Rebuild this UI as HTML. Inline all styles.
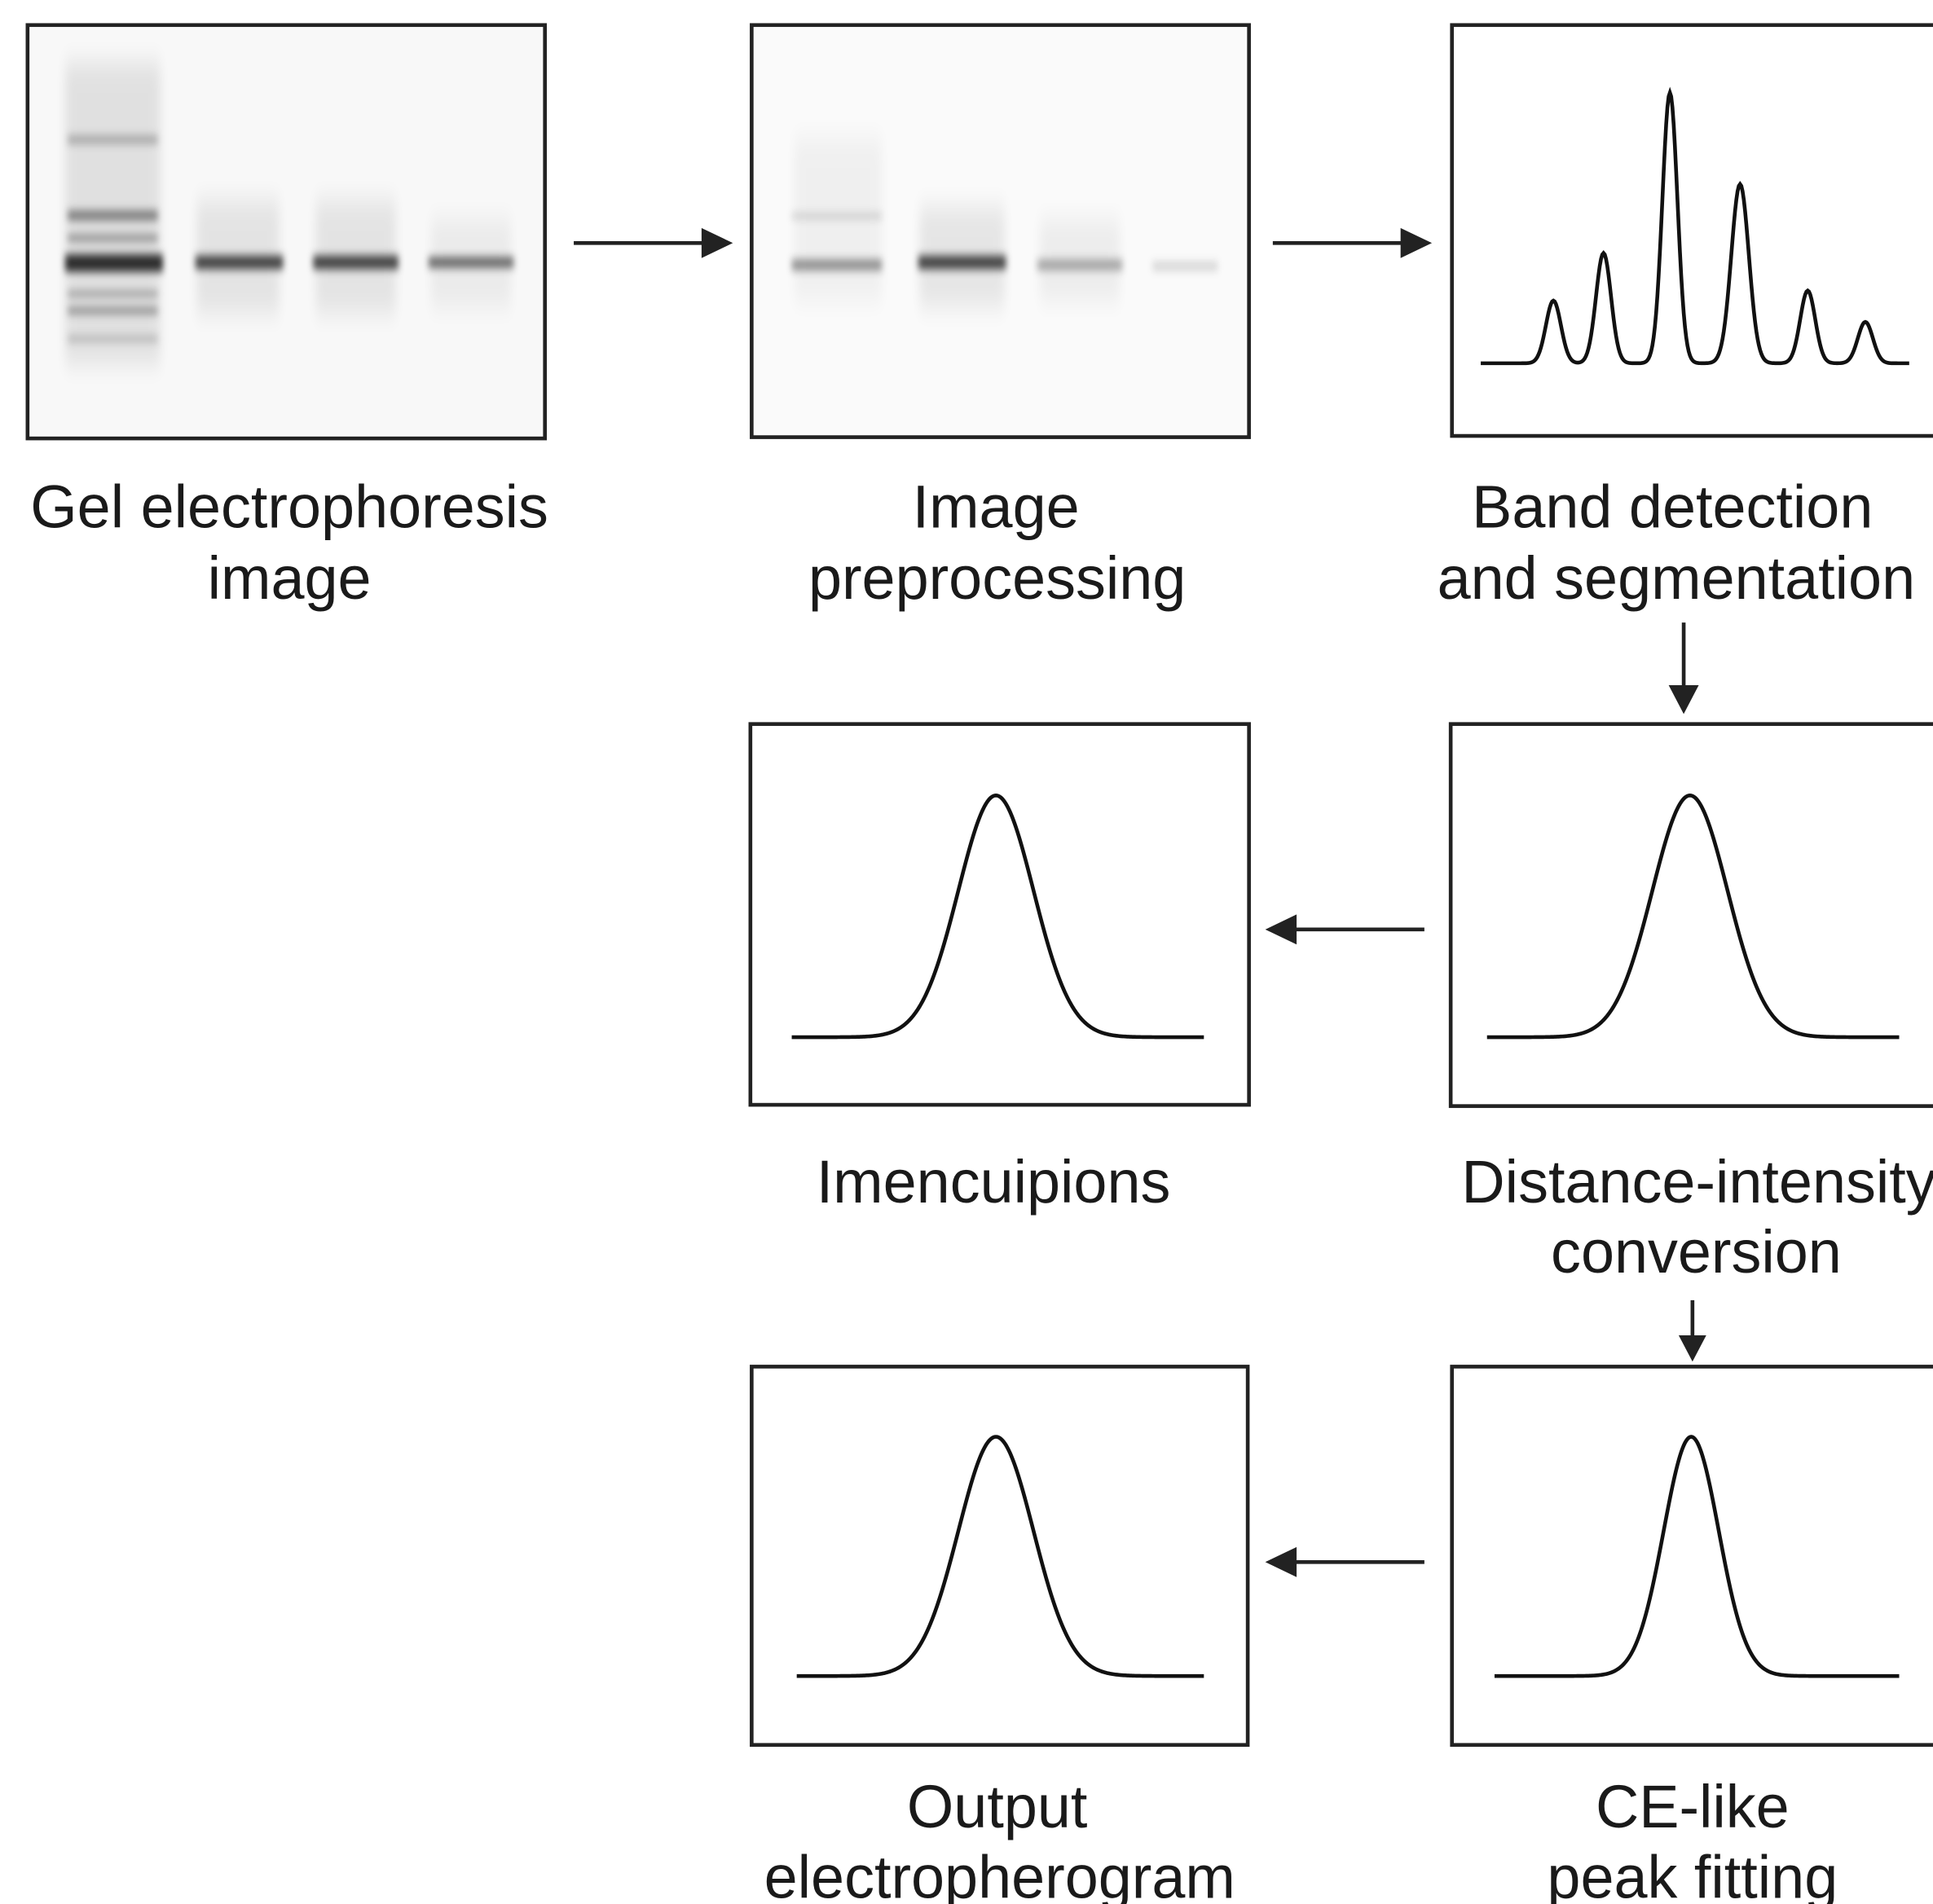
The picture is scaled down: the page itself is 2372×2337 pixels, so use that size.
<!DOCTYPE html>
<html><head><meta charset="utf-8"><style>html,body{margin:0;padding:0;background:#fff;}svg{display:block}</style></head>
<body>
<svg id="s" width="2372" height="2337" viewBox="0 0 1543 1520" preserveAspectRatio="none" xmlns="http://www.w3.org/2000/svg">
<defs>
<filter id="b1" x="-20%" y="-200%" width="140%" height="500%"><feGaussianBlur stdDeviation="2.5 3.5"/></filter>
<filter id="b2" x="-20%" y="-20%" width="140%" height="140%"><feGaussianBlur stdDeviation="4 10"/></filter>
</defs>
<rect width="1543" height="1520" fill="#fff"/>
<!-- Box 1 gel -->
<rect x="22" y="20" width="413" height="330" fill="#f8f8f8"/>
<g fill="#000">
<rect x="52" y="50" width="76" height="240" opacity="0.09" filter="url(#b2)"/>
<rect x="157" y="160" width="66" height="90" opacity="0.08" filter="url(#b2)"/>
<rect x="252" y="160" width="64" height="90" opacity="0.08" filter="url(#b2)"/>
<rect x="344" y="175" width="64" height="70" opacity="0.05" filter="url(#b2)"/>
<g filter="url(#b1)">
<rect x="54" y="108" width="72" height="7" opacity="0.25"/>
<rect x="54" y="168" width="72" height="8" opacity="0.45"/>
<rect x="54" y="187" width="72" height="6" opacity="0.35"/>
<rect x="52" y="203" width="78" height="14" opacity="0.8"/>
<rect x="54" y="232" width="72" height="5" opacity="0.3"/>
<rect x="54" y="245" width="72" height="6" opacity="0.35"/>
<rect x="54" y="268" width="72" height="5" opacity="0.2"/>
<rect x="156" y="204" width="70" height="11" opacity="0.7"/>
<rect x="250" y="204" width="68" height="11" opacity="0.7"/>
<rect x="342" y="205" width="68" height="9" opacity="0.55"/>
</g></g>
<rect x="22" y="20" width="413" height="330" fill="none" stroke="#222" stroke-width="3"/>
<!-- Box 2 gel -->
<rect x="600" y="20" width="397" height="329" fill="#fafafa"/>
<g fill="#000">
<rect x="634" y="110" width="70" height="130" opacity="0.04" filter="url(#b2)"/>
<rect x="734" y="165" width="68" height="80" opacity="0.08" filter="url(#b2)"/>
<rect x="830" y="175" width="64" height="65" opacity="0.05" filter="url(#b2)"/>
<g filter="url(#b1)">
<rect x="632" y="170" width="72" height="5" opacity="0.15"/>
<rect x="632" y="207" width="72" height="9" opacity="0.4"/>
<rect x="733" y="204" width="70" height="11" opacity="0.7"/>
<rect x="828" y="207" width="68" height="9" opacity="0.3"/>
<rect x="920" y="209" width="52" height="7" opacity="0.15"/>
</g></g>
<rect x="600" y="20" width="397" height="329" fill="none" stroke="#222" stroke-width="3"/>
<!-- Box 3 -->
<rect x="1159" y="20" width="400" height="328" fill="none" stroke="#222" stroke-width="3"/>
<path id="p3" fill="none" stroke="#111" stroke-width="3"/>
<!-- Row 2 -->
<rect x="599" y="578" width="398" height="304" fill="none" stroke="#222" stroke-width="3"/>
<rect x="1158" y="578" width="400" height="305" fill="none" stroke="#222" stroke-width="3"/>
<path id="p4" fill="none" stroke="#111" stroke-width="3"/>
<path id="p5" fill="none" stroke="#111" stroke-width="3"/>
<!-- Row 3 -->
<rect x="600" y="1091" width="396" height="302" fill="none" stroke="#222" stroke-width="3"/>
<rect x="1159" y="1091" width="400" height="302" fill="none" stroke="#222" stroke-width="3"/>
<path id="p6" fill="none" stroke="#111" stroke-width="3"/>
<path id="p7" fill="none" stroke="#111" stroke-width="3"/>
<!-- Arrows -->
<g stroke="#222" stroke-width="3" fill="none">
<line x1="458" y1="194" x2="565" y2="194"/>
<line x1="1016" y1="194" x2="1123" y2="194"/>
<line x1="1344" y1="497" x2="1344" y2="552"/>
<line x1="1137" y1="742" x2="1030" y2="742"/>
<line x1="1351" y1="1038" x2="1351" y2="1070"/>
<line x1="1137" y1="1247" x2="1030" y2="1247"/>
</g>
<g fill="#222">
<path d="M585,194 L560,182 L560,206 z"/>
<path d="M1143,194 L1118,182 L1118,206 z"/>
<path d="M1344,570 L1332,547 L1356,547 z"/>
<path d="M1010,742 L1035,730 L1035,754 z"/>
<path d="M1351,1087 L1340,1066 L1362,1066 z"/>
<path d="M1010,1247 L1035,1235 L1035,1259 z"/>
</g>
<!-- Labels -->
<g font-family="Liberation Sans, Arial, sans-serif" font-size="48" fill="#1a1a1a" text-anchor="middle">
<text x="231" y="421">Gel electrophoresis</text>
<text x="231" y="478">image</text>
<text x="795" y="421">Image</text>
<text x="796" y="478">preprocessing</text>
<text x="1335" y="421">Band detection</text>
<text x="1338" y="478">and segmentation</text>
<text x="793" y="960">Imencuipions</text>
<text x="1356" y="960">Distance-intensity</text>
<text x="1354" y="1016">conversion</text>
<text x="796" y="1459">Output</text>
<text x="798" y="1515">electropherogram</text>
<text x="1351" y="1459">CE-like</text>
<text x="1351" y="1515">peak fitting</text>
</g>
</svg>
<script>
function g(x0,x1,base,peaks){var d="";for(var x=x0;x<=x1;x+=1){var y=base;for(var i=0;i<peaks.length;i++){var p=peaks[i];y-=p[1]*Math.exp(-Math.pow((x-p[0])/p[2],2)/2);}d+=(x==x0?"M":"L")+x+","+y.toFixed(2)+" ";}return d;}
document.getElementById("p3").setAttribute("d",g(1182,1524,290,[[1240,50,6],[1280,88,6],[1333,216,6],[1389,143,7],[1443,58,6],[1489,33,6]]));
document.getElementById("p4").setAttribute("d",g(632,961,828,[[795,193,30]]));
document.getElementById("p5").setAttribute("d",g(1187,1516,828,[[1349,193,30]]));
document.getElementById("p6").setAttribute("d",g(636,961,1338,[[795,191,30]]));
document.getElementById("p7").setAttribute("d",g(1193,1516,1338,[[1350,191,22]]));
</script>
</body></html>
